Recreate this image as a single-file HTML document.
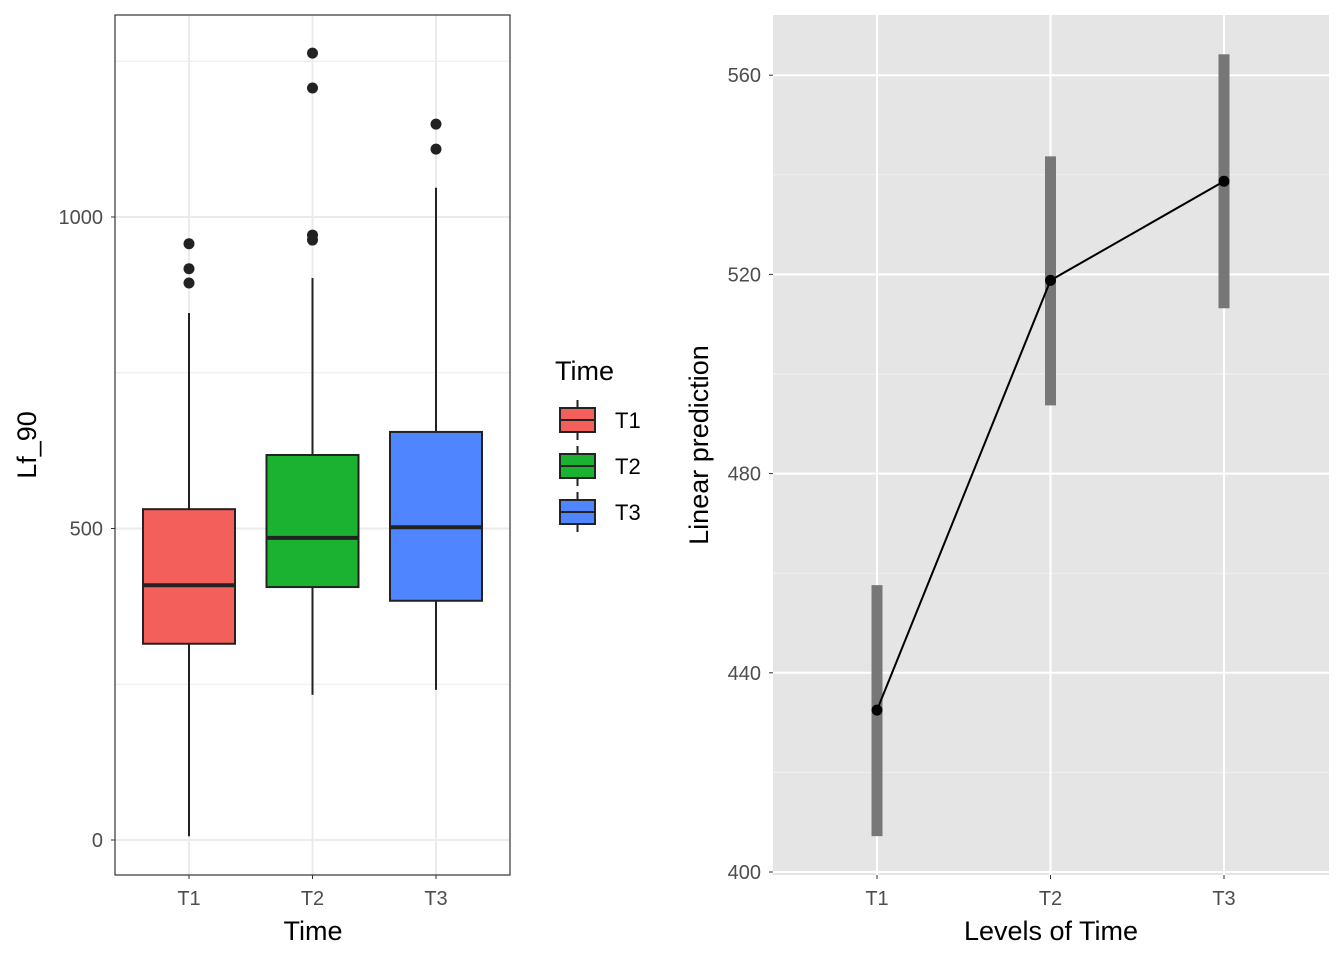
<!DOCTYPE html>
<html><head><meta charset="utf-8"><style>
body{margin:0;background:#fff;font-family:"Liberation Sans",Arial,sans-serif}
</style></head><body>
<svg id="c" width="1344" height="960" xmlns="http://www.w3.org/2000/svg" font-family="Liberation Sans, Arial, sans-serif"></svg>
<script>
const cats=["T1","T2","T3"];
const boxQ1=[315,406,384];
const boxMed=[409,485,502];
const boxQ3=[531,618,655];
const whiskLo=[6,233,241];
const whiskHi=[846,902,1047];
const outliers=[[957,917,894],[1263,1207,971,963],[1149,1109]];
const fills=["#F35F5A","#1BB231","#4F86FF"];
const leftTicks=[0,500,1000];
const predVals=[432.5,518.8,538.7];
const predLo=[407.2,493.7,513.2];
const predHi=[457.6,543.7,564.2];
const rightTicks=[400,440,480,520,560];

const svg=document.getElementById('c');
const NS="http://www.w3.org/2000/svg";
function mk(t,a,txt){const e=document.createElementNS(NS,t);for(const k in a)e.setAttribute(k,a[k]);if(txt!==undefined)e.textContent=txt;svg.appendChild(e);return e;}
const TF=20, AF=27;

// LEFT panel
const L={x0:115,x1:510,y0:15,y1:875};
const ly=v=>840-v*0.623;
const lx=i=>189+i*123.5;
let e=mk('rect',{x:L.x0,y:L.y0,width:L.x1-L.x0,height:L.y1-L.y0,fill:'#fff'});


[250,750,1250].forEach(v=>{const g=mk('line',{x1:L.x0,x2:L.x1,y1:ly(v),y2:ly(v),stroke:'#ebebeb','stroke-width':1});

});
leftTicks.forEach(v=>{const g=mk('line',{x1:L.x0,x2:L.x1,y1:ly(v),y2:ly(v),stroke:'#ebebeb','stroke-width':2});


const t=mk('text',{x:L.x0-12,y:ly(v)+7,'text-anchor':'end','font-size':TF,fill:'#4d4d4d'},v);


mk('line',{x1:L.x0-4,x2:L.x0,y1:ly(v),y2:ly(v),stroke:'#333','stroke-width':1});});
cats.forEach((c,i)=>{const x=lx(i);
const g=mk('line',{x1:x,x2:x,y1:L.y0,y2:L.y1,stroke:'#ebebeb','stroke-width':2});

});
cats.forEach((c,i)=>{const x=lx(i),w=92;
let w1=mk('line',{x1:x,x2:x,y1:ly(whiskHi[i]),y2:ly(boxQ3[i]),stroke:'#222','stroke-width':2});


let w2=mk('line',{x1:x,x2:x,y1:ly(boxQ1[i]),y2:ly(whiskLo[i]),stroke:'#222','stroke-width':2});


let b=mk('rect',{x:x-w/2,y:ly(boxQ3[i]),width:w,height:ly(boxQ1[i])-ly(boxQ3[i]),fill:fills[i],stroke:'#222','stroke-width':2});


let m=mk('line',{x1:x-w/2,x2:x+w/2,y1:ly(boxMed[i]),y2:ly(boxMed[i]),stroke:'#222','stroke-width':4});


outliers[i].forEach(v=>{let o=mk('circle',{cx:x,cy:ly(v),r:5.5,fill:'#222'});

});
mk('line',{x1:x,x2:x,y1:L.y1,y2:L.y1+4,stroke:'#333'});
let t=mk('text',{x:x,y:905,'text-anchor':'middle','font-size':TF,fill:'#4d4d4d'},c);

});
e=mk('rect',{x:L.x0,y:L.y0,width:L.x1-L.x0,height:L.y1-L.y0,fill:'none',stroke:'#333','stroke-width':1.2});


e=mk('text',{x:313,y:940,'text-anchor':'middle','font-size':AF},'Time');


e=mk('text',{x:36,y:445,'text-anchor':'middle','font-size':AF,transform:'rotate(-90 36 445)'},'Lf_90');


// legend
e=mk('text',{x:555,y:380,'font-size':AF},'Time');


cats.forEach((c,i)=>{const y=420+i*46;
mk('line',{x1:577.5,x2:577.5,y1:y-20,y2:y+20,stroke:'#222','stroke-width':2});
let r=mk('rect',{x:560,y:y-12,width:35,height:24,fill:fills[i],stroke:'#222','stroke-width':2});


mk('line',{x1:560,x2:595,y1:y,y2:y,stroke:'#222','stroke-width':2});
let t=mk('text',{x:615,y:y+8,'font-size':22},c);

});

// RIGHT panel
const R={x0:773,x1:1329,y0:15,y1:875};
const ry=v=>872-(v-400)*4.98;
const rx=i=>877+i*173.5;
e=mk('rect',{x:R.x0,y:R.y0,width:R.x1-R.x0,height:R.y1-R.y0,fill:'#e5e5e5'});


[420,460,500,540].forEach(v=>{const g=mk('line',{x1:R.x0,x2:R.x1,y1:ry(v),y2:ry(v),stroke:'#f2f2f2','stroke-width':1});

});
rightTicks.forEach(v=>{const g=mk('line',{x1:R.x0,x2:R.x1,y1:ry(v),y2:ry(v),stroke:'#fff','stroke-width':2});


mk('line',{x1:R.x0-4,x2:R.x0,y1:ry(v),y2:ry(v),stroke:'#333'});
const t=mk('text',{x:R.x0-12,y:ry(v)+7,'text-anchor':'end','font-size':TF,fill:'#4d4d4d'},v);

});
cats.forEach((c,i)=>{const x=rx(i);
const g=mk('line',{x1:x,x2:x,y1:R.y0,y2:R.y1,stroke:'#fff','stroke-width':2});


mk('line',{x1:x,x2:x,y1:R.y1,y2:R.y1+4,stroke:'#333'});
let t=mk('text',{x:x,y:905,'text-anchor':'middle','font-size':TF,fill:'#4d4d4d'},c);

});
cats.forEach((c,i)=>{const b=mk('rect',{x:rx(i)-5.5,y:ry(predHi[i]),width:11,height:ry(predLo[i])-ry(predHi[i]),fill:'#777'});

});
e=mk('polyline',{points:predVals.map((v,i)=>rx(i)+','+ry(v)).join(' '),fill:'none',stroke:'#000','stroke-width':2});


predVals.forEach((v,i)=>{const p=mk('circle',{cx:rx(i),cy:ry(v),r:5.5,fill:'#000'});

});
e=mk('text',{x:1051,y:940,'text-anchor':'middle','font-size':AF},'Levels of Time');


e=mk('text',{x:708,y:445,'text-anchor':'middle','font-size':AF,transform:'rotate(-90 708 445)'},'Linear prediction');


</script>
</body></html>
